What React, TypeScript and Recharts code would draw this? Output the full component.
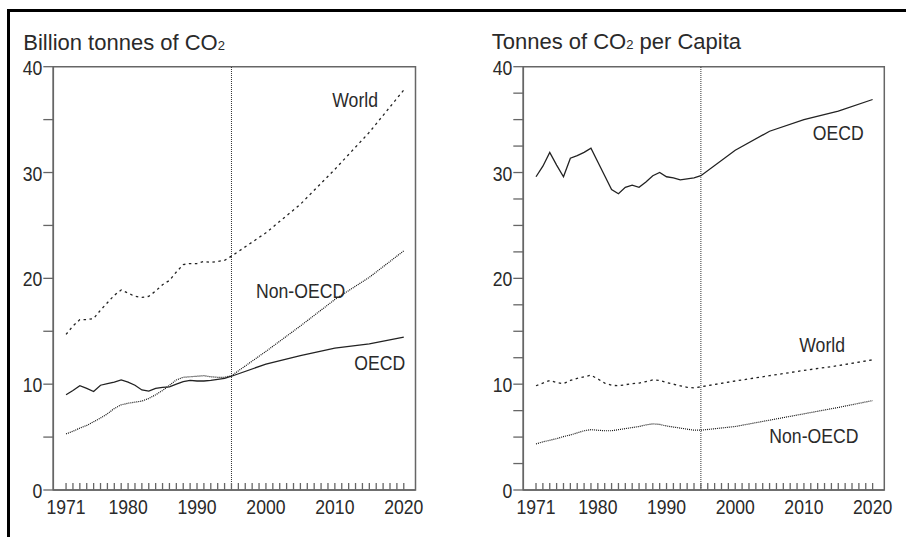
import React from 'react';
import { LineChart, Line, XAxis, YAxis, ReferenceLine, ReferenceArea } from 'recharts';

// ---- data ----
const histYears = [1971, 1972, 1973, 1974, 1975, 1976, 1977, 1978, 1979, 1980, 1981, 1982, 1983, 1984, 1985, 1986, 1987, 1988, 1989, 1990, 1991, 1992, 1993, 1994, 1995];
const projYears = [2000, 2005, 2010, 2015, 2020];

// Billion tonnes of CO2
const totalOecdHist = [9.0, 9.4, 9.85, 9.6, 9.3, 9.9, 10.05, 10.2, 10.4, 10.2, 9.9, 9.45, 9.35, 9.6, 9.7, 9.75, 10.0, 10.25, 10.35, 10.3, 10.3, 10.35, 10.45, 10.55, 10.75];
const totalOecdProj = [11.9, 12.7, 13.4, 13.8, 14.45];
const totalNonOecdHist = [5.3, 5.55, 5.85, 6.1, 6.45, 6.8, 7.2, 7.7, 8.05, 8.2, 8.3, 8.4, 8.65, 9.0, 9.4, 9.9, 10.4, 10.65, 10.7, 10.75, 10.8, 10.7, 10.65, 10.65, 10.8];
const totalNonOecdProj = [13.1, 15.5, 18.0, 20.1, 22.6];
const totalWorldHist = [14.7, 15.5, 16.1, 16.1, 16.2, 17.0, 17.7, 18.4, 18.9, 18.6, 18.3, 18.2, 18.3, 18.8, 19.4, 19.8, 20.6, 21.3, 21.4, 21.4, 21.6, 21.5, 21.6, 21.7, 22.1];
const totalWorldProj = [24.3, 27.0, 30.3, 33.8, 37.8];

// Tonnes of CO2 per capita
const pcOecdHist = [29.6, 30.6, 31.9, 30.7, 29.6, 31.35, 31.6, 31.9, 32.3, 31.0, 29.7, 28.4, 28.0, 28.6, 28.8, 28.6, 29.1, 29.7, 30.0, 29.6, 29.5, 29.3, 29.4, 29.5, 29.7];
const pcOecdProj = [32.1, 33.9, 35.0, 35.8, 36.9];
const pcWorldHist = [9.85, 10.1, 10.35, 10.15, 10.05, 10.35, 10.55, 10.7, 10.85, 10.5, 10.1, 9.9, 9.85, 9.95, 10.05, 10.1, 10.25, 10.4, 10.35, 10.15, 10.0, 9.85, 9.7, 9.65, 9.75];
const pcWorldProj = [10.3, 10.8, 11.3, 11.75, 12.3];
const pcNonOecdHist = [4.35, 4.55, 4.7, 4.85, 5.05, 5.2, 5.4, 5.6, 5.7, 5.65, 5.6, 5.6, 5.7, 5.8, 5.9, 6.0, 6.15, 6.25, 6.2, 6.05, 5.95, 5.85, 5.75, 5.65, 5.65];
const pcNonOecdProj = [6.0, 6.6, 7.2, 7.8, 8.45];

const labeledYears = [1971, 1980, 1990, 2000, 2010, 2020];
const yLeftTicks = [0, 5, 10, 15, 20, 25, 30, 35, 40];
const yRightTicks = [0, 2.5, 5, 7.5, 10, 12.5, 15, 17.5, 20, 22.5, 25, 27.5, 30, 32.5, 35, 37.5, 40];
const yearTicks: number[] = [];
for (let y = 1971; y <= 2020; y++) yearTicks.push(y);

const buildSeries = (hist: number[], proj: number[]) =>
  histYears.map((year, i) => ({ year, v: hist[i] })).concat(projYears.map((year, i) => ({ year, v: proj[i] })));

const X_DOMAIN: [number, number] = [1969.15, 2021.7];
const FONT = "'Liberation Sans', Arial, sans-serif";
const AXIS = '#666';
const TXT = '#2a2a2a';
const SX = 0.84; // horizontal condensing to mimic the narrow face

const NText = ({ x, y, anchor = 'start', size = 21, dy, children }: any) => (
  <g transform={`translate(${x},${y}) scale(${SX},1)`}>
    <text x={0} y={0} dy={dy} textAnchor={anchor} fill={TXT} fontSize={size} fontFamily={FONT}>
      {children}
    </text>
  </g>
);

const XTick = (props: any) => {
  const { x, y, payload } = props;
  const yr = payload.value;
  return (
    <g>
      <line x1={x} x2={x} y1={y} y2={y - 7} stroke={AXIS} strokeWidth={1.3} />
      {labeledYears.includes(yr) && (
        <NText x={x} y={y + 24} anchor="middle">
          {yr}
        </NText>
      )}
    </g>
  );
};

const YTick = (props: any) => {
  const { x, y, payload } = props;
  const v = payload.value;
  if (v % 10 !== 0) return <g />;
  return (
    <NText x={x} y={y} anchor="end" dy="0.38em">
      {v}
    </NText>
  );
};

type Panel = {
  width: number;
  yWidth: number;
  right: number;
  ticks: number[];
  oecd: { year: number; v: number }[];
  world: { year: number; v: number }[];
  non: { year: number; v: number }[];
};

const ChartPanel = ({ width, yWidth, right, ticks, oecd, world, non }: Panel) => (
  <LineChart width={width} height={537} margin={{ top: 66.7, right, bottom: 17, left: 0 }}>
    <XAxis
      type="number"
      dataKey="year"
      domain={X_DOMAIN}
      ticks={yearTicks}
      interval={0}
      allowDataOverflow
      height={30}
      tickSize={0}
      tickMargin={0}
      tickLine={false}
      axisLine={{ stroke: AXIS, strokeWidth: 1.5 }}
      tick={<XTick />}
    />
    <YAxis
      type="number"
      domain={[0, 40]}
      ticks={ticks}
      interval={0}
      width={yWidth}
      tickSize={10}
      tickMargin={1}
      tickLine={{ stroke: AXIS, strokeWidth: 1.3 }}
      axisLine={{ stroke: AXIS, strokeWidth: 1.5 }}
      tick={<YTick />}
    />
    <ReferenceArea x1={X_DOMAIN[0]} x2={X_DOMAIN[1]} y1={0} y2={40} fill="none" fillOpacity={0} stroke={AXIS} strokeWidth={1.5} />
    <ReferenceLine x={1995} stroke="#333" strokeDasharray="1 1" strokeWidth={1} />
    <Line data={non} dataKey="v" type="linear" stroke="#111" strokeWidth={1.2} strokeDasharray="1 1" dot={false} isAnimationActive={false} />
    <Line data={world} dataKey="v" type="linear" stroke="#222" strokeWidth={1.3} strokeDasharray="2.5 3.5" dot={false} isAnimationActive={false} />
    <Line data={oecd} dataKey="v" type="linear" stroke="#222" strokeWidth={1.3} dot={false} isAnimationActive={false} />
  </LineChart>
);

export default function App() {
  return (
    <div style={{ position: 'fixed', left: 0, top: 0, width: 906, height: 537, overflow: 'hidden', background: '#fff' }}>
      <div style={{ position: 'absolute', left: 7, top: 9, width: 1200, height: 1200, borderTop: '3px solid #000', borderLeft: '3px solid #000' }} />
      <div style={{ position: 'absolute', left: 0, top: 0 }}>
        <ChartPanel
          width={450}
          yWidth={53.3}
          right={34.5}
          ticks={yLeftTicks}
          oecd={buildSeries(totalOecdHist, totalOecdProj)}
          world={buildSeries(totalWorldHist, totalWorldProj)}
          non={buildSeries(totalNonOecdHist, totalNonOecdProj)}
        />
      </div>
      <div style={{ position: 'absolute', left: 458, top: 0 }}>
        <ChartPanel
          width={448}
          yWidth={65.3}
          right={21.7}
          ticks={yRightTicks}
          oecd={buildSeries(pcOecdHist, pcOecdProj)}
          world={buildSeries(pcWorldHist, pcWorldProj)}
          non={buildSeries(pcNonOecdHist, pcNonOecdProj)}
        />
      </div>
      <svg width={906} height={537} style={{ position: 'absolute', left: 0, top: 0, pointerEvents: 'none' }}>
        <text x={23.3} y={50} fill={TXT} fontSize={22} fontFamily={FONT}>
          Billion tonnes of CO<tspan fontSize={13}>2</tspan>
        </text>
        <text x={491.7} y={49} fill={TXT} fontSize={22} fontFamily={FONT}>
          Tonnes of CO<tspan fontSize={13}>2</tspan> per Capita
        </text>
        <NText x={332.3} y={106.7}>World</NText>
        <NText x={256} y={298.3}>Non-OECD</NText>
        <NText x={354.3} y={370}>OECD</NText>
        <NText x={812.7} y={140}>OECD</NText>
        <NText x={799.3} y={351.7}>World</NText>
        <NText x={769.3} y={443.3}>Non-OECD</NText>
      </svg>
    </div>
  );
}
